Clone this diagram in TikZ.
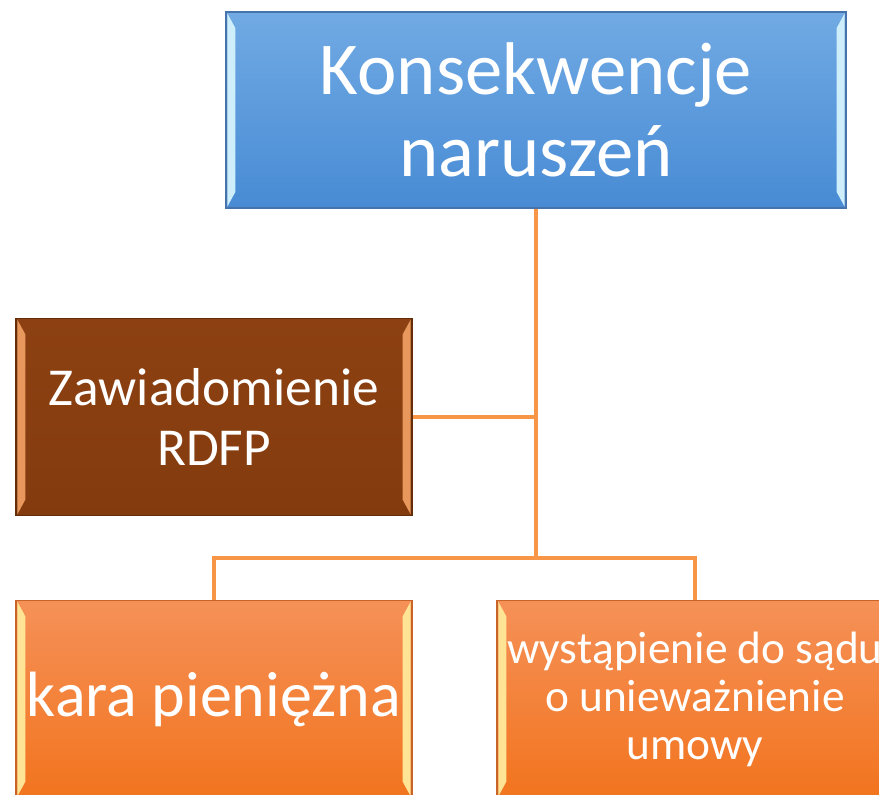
\documentclass[tikz,border=0pt]{standalone}
\usepackage{fontspec}
\setmainfont{Carlito}
\definecolor{linkorange}{RGB}{247,150,70}
\definecolor{blueTop}{RGB}{113,170,228}
\definecolor{blueBot}{RGB}{72,139,212}
\definecolor{blueEdge}{RGB}{70,115,170}
\definecolor{blueLit}{RGB}{205,238,250}
\definecolor{brownTop}{RGB}{141,65,18}
\definecolor{brownBot}{RGB}{131,59,14}
\definecolor{brownEdge}{RGB}{100,45,10}
\definecolor{brownLit}{RGB}{232,152,92}
\definecolor{orangeTop}{RGB}{245,145,88}
\definecolor{orangeBot}{RGB}{242,116,30}
\definecolor{orangeEdge}{RGB}{200,100,40}
\definecolor{orangeLit}{RGB}{255,228,150}
\tikzset{
  box/.style n args={4}{top color=#1, bottom color=#2, draw=#3, line width=0.8pt,
    text=white, align=center, inner sep=0pt,
    path picture={
      \fill[#4] ([shift={(1pt,1pt)}]path picture bounding box.south west)
        -- ([shift={(1pt,-1pt)}]path picture bounding box.north west)
        -- ([shift={(7pt,-12pt)}]path picture bounding box.north west)
        -- ([shift={(7pt,12pt)}]path picture bounding box.south west) -- cycle;
      \fill[#4] ([shift={(-1pt,1pt)}]path picture bounding box.south east)
        -- ([shift={(-1pt,-1pt)}]path picture bounding box.north east)
        -- ([shift={(-7pt,-12pt)}]path picture bounding box.north east)
        -- ([shift={(-7pt,12pt)}]path picture bounding box.south east) -- cycle;
    }},
  link/.style={linkorange, line width=2.6pt}
}
\begin{document}
\begin{tikzpicture}[x=0.75pt, y=0.75pt]
    \clip (0,0) rectangle (879,794);

    % top: blue, middle: brown, bottom row: orange
    \node[box={blueTop}{blueBot}{blueEdge}{blueLit}, minimum width=465pt, minimum height=147pt,
          font=\fontsize{56}{62}\selectfont] (kons) at (536,684) {Konsekwencje\\naruszeń};
    \node[box={brownTop}{brownBot}{brownEdge}{brownLit}, minimum width=297pt, minimum height=148pt,
          font=\fontsize{40}{45}\selectfont] (rdfp) at (214,377) {Zawiadomienie\\RDFP};
    \node[box={orangeTop}{orangeBot}{orangeEdge}{orangeLit}, minimum width=297pt, minimum height=148pt,
          font=\fontsize{48}{52}\selectfont] (kara) at (214,95) {kara pieniężna};
    \node[box={orangeTop}{orangeBot}{orangeEdge}{orangeLit}, minimum width=297pt, minimum height=148pt,
          font=\fontsize{34}{36}\selectfont] (sad) at (695,95) {wystąpienie do sądu\\o unieważnienie\\umowy};

    \coordinate (bus) at (536,236);
    \draw[link] (kons.south) -- (bus);
    \draw[link] (rdfp.east) -- (rdfp.east -| bus);
    \draw[link] (kara.north) |- (bus) -| (sad.north);
\end{tikzpicture}
\end{document}
